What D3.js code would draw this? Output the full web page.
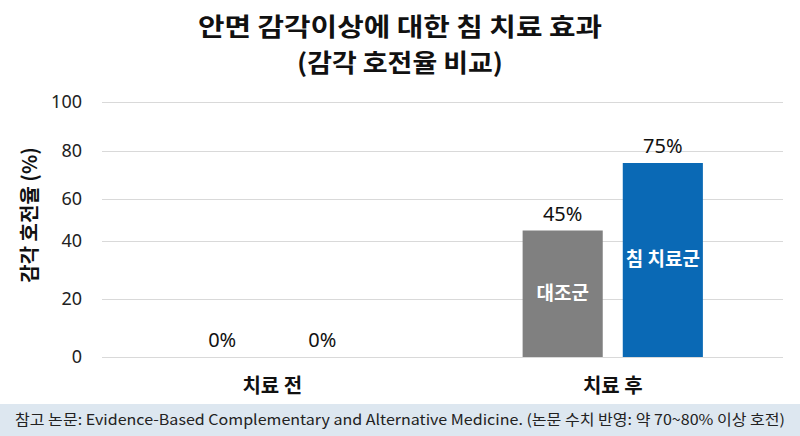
<html>
<head>
<meta charset="utf-8">
<script src="https://d3js.org/d3.v7.min.js"></script>
<style>
  body { margin: 0; background: #fff; }
  text { font-family: "Noto Sans CJK KR", "Noto Sans", sans-serif; }
</style>
</head>
<body>
<svg width="800" height="436"></svg>
<script>
// data
var stages = ["치료 전", "치료 후"];
var groups = ["대조군", "침 치료군"];
var controlValues = [0, 45];
var acuValues = [0, 75];
var yTicks = [0, 20, 40, 60, 80, 100];
var colors = {"대조군": "#808080", "침 치료군": "#0a69b5"};

var svg = d3.select("svg");

// the picture's y axis is not evenly spaced, so use a piecewise scale
var y = d3.scaleLinear().domain(yTicks).range([357, 299, 241, 199, 151, 102]);
var x0 = d3.scaleBand().domain(stages).range([102, 783]);
var x1 = d3.scaleBand().domain(groups).range([0, x0.bandwidth()])
    .paddingInner(0.2).paddingOuter(0.8);

// footer band
svg.append("rect").attr("x", 0).attr("y", 404).attr("width", 800).attr("height", 32)
    .attr("fill", "#dde7f0");
svg.append("text").attr("x", 400).attr("y", 425).attr("text-anchor", "middle")
    .attr("font-size", 14.5).attr("fill", "#222")
    .attr("textLength", 770).attr("lengthAdjust", "spacingAndGlyphs")
    .text("참고 논문: Evidence-Based Complementary and Alternative Medicine. (논문 수치 반영: 약 70~80% 이상 호전)");

// title
svg.append("text").attr("x", 400).attr("y", 36).attr("text-anchor", "middle")
    .attr("font-size", 25).attr("font-weight", "bold").attr("fill", "#111")
    .attr("textLength", 404).attr("lengthAdjust", "spacingAndGlyphs")
    .text("안면 감각이상에 대한 침 치료 효과");
svg.append("text").attr("x", 400).attr("y", 72).attr("text-anchor", "middle")
    .attr("font-size", 25).attr("font-weight", "bold").attr("fill", "#111")
    .attr("textLength", 206).attr("lengthAdjust", "spacingAndGlyphs")
    .text("(감각 호전율 비교)");

// grid + y axis
var yAxis = svg.append("g").attr("transform", "translate(102,0)")
    .call(d3.axisLeft(y).tickValues(yTicks).tickSize(-681).tickPadding(20));
yAxis.select(".domain").remove();
yAxis.selectAll(".tick line").attr("stroke", "#d9d9d9");
yAxis.selectAll(".tick text").attr("font-size", 18).attr("fill", "#222")
    .style("font-family", "'Noto Sans', sans-serif");

svg.append("text").attr("transform", "translate(37,215) rotate(-90)")
    .attr("text-anchor", "middle").attr("font-size", 20).attr("font-weight", "bold")
    .attr("fill", "#111").text("감각 호전율 (%)");

// bars
var rows = stages.map(function(s, i) {
  return {stage: s, vals: [
    {group: groups[0], value: controlValues[i]},
    {group: groups[1], value: acuValues[i]}
  ]};
});

var g = svg.selectAll(".stage").data(rows).enter().append("g")
    .attr("transform", function(d) { return "translate(" + x0(d.stage) + ",0)"; });

var items = g.selectAll(".item").data(function(d) { return d.vals; }).enter().append("g");

items.append("rect")
    .attr("x", function(d) { return x1(d.group); })
    .attr("width", x1.bandwidth())
    .attr("y", function(d) { return y(d.value); })
    .attr("height", function(d) { return y(0) - y(d.value); })
    .attr("fill", function(d) { return colors[d.group]; });

items.append("text")
    .attr("x", function(d) { return x1(d.group) + x1.bandwidth() / 2; })
    .attr("y", function(d) { return y(d.value) - 10; })
    .attr("text-anchor", "middle").attr("font-size", 20).attr("fill", "#111")
    .style("font-family", "'Noto Sans', sans-serif")
    .text(function(d) { return d.value + "%"; });

items.filter(function(d) { return d.value > 0; }).append("text")
    .attr("x", function(d) { return x1(d.group) + x1.bandwidth() / 2; })
    .attr("y", function(d) { return (y(d.value) + y(0)) / 2 + 6; })
    .attr("text-anchor", "middle").attr("font-size", 19).attr("font-weight", "bold")
    .attr("fill", "#fff")
    .text(function(d) { return d.group; });

// x labels
svg.selectAll(".xl").data(stages).enter().append("text")
    .attr("x", function(d) { return x0(d) + x0.bandwidth() / 2; })
    .attr("y", 393).attr("text-anchor", "middle")
    .attr("font-size", 20).attr("font-weight", "bold").attr("fill", "#111")
    .text(function(d) { return d; });
</script>
</body>
</html>
